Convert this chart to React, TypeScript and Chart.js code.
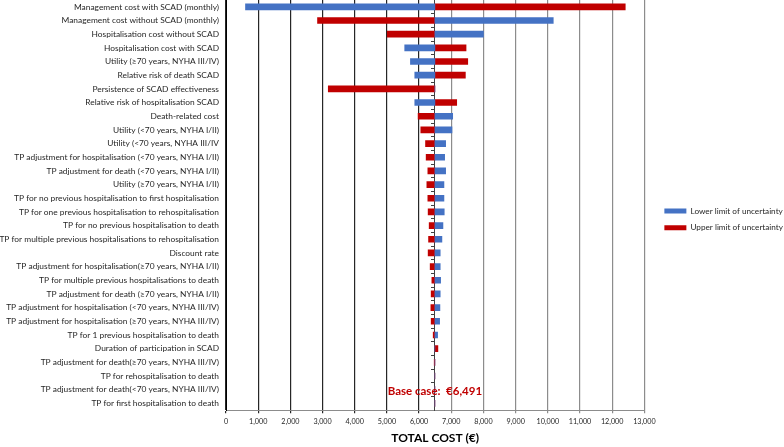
import React, { useEffect, useRef } from 'react';
import { Chart, registerables } from 'chart.js';

Chart.register(...registerables);

const BASE_CASE = 6491;

const categories = [
  'Management cost with SCAD (monthly)',
  'Management cost without SCAD (monthly)',
  'Hospitalisation cost without SCAD',
  'Hospitalisation cost with SCAD',
  'Utility (\u226570 years, NYHA III/IV)',
  'Relative risk of death SCAD',
  'Persistence of SCAD effectiveness',
  'Relative risk of hospitalisation SCAD',
  'Death-related cost',
  'Utility (<70 years, NYHA I/II)',
  'Utility (<70 years, NYHA III/IV',
  'TP adjustment for hospitalisation (<70 years, NYHA I/II)',
  'TP adjustment for death (<70 years, NYHA I/II)',
  'Utility (\u226570 years, NYHA I/II)',
  'TP for no previous hospitalisation to first hospitalisation',
  'TP for one previous hospitalisation to rehospitalisation',
  'TP for no previous hospitalisation to death',
  'TP for multiple previous hospitalisations to rehospitalisation',
  'Discount rate',
  'TP adjustment for hospitalisation(\u226570 years, NYHA I/II)',
  'TP for multiple previous hospitalisations to death',
  'TP adjustment for death (\u226570 years, NYHA I/II)',
  'TP adjustment for hospitalisation (<70 years, NYHA III/IV)',
  'TP adjustment for hospitalisation (\u226570 years, NYHA III/IV)',
  'TP for 1 previous hospitalisation to death',
  'Duration of participation in SCAD',
  'TP adjustment for death(\u226570 years, NYHA III/IV)',
  'TP for rehospitalisation to death',
  'TP adjustment for death(<70 years, NYHA III/IV)',
  'TP for first hospitalisation to death',
];

// Total cost at the lower limit of each parameter's uncertainty range
const lowerLimit = [
  606, 10169, 8000, 5553, 5731, 5866, 6491, 5866, 7044, 7022,
  6825, 6794, 6825, 6772, 6772, 6781, 6741, 6709, 6656, 6656,
  6669, 6656, 6647, 6638, 6575, 6491, 6491, 6491, 6491, 6491,
];

// Total cost at the upper limit of each parameter's uncertainty range
const upperLimit = [
  12406, 2844, 5012, 7459, 7512, 7438, 3178, 7169, 5969, 6053,
  6200, 6219, 6272, 6241, 6272, 6281, 6313, 6294, 6281, 6344,
  6397, 6375, 6366, 6375, 6438, 6584, 6470, 6491, 6491, 6491,
];

const seriesNames = ['Lower limit of uncertainty', 'Upper limit of uncertainty'];
const seriesColors = ['#4472C4', '#C00000'];

const X_MIN = 0;
const X_MAX = 13000;
const X_STEP = 1000;
const BASE_LABEL_ROW = 28;

const FONT = 'Lato, "Open Sans", sans-serif';
const LEGEND_GAP = 20; // space between plot area and legend swatches
const LEGEND_RIGHT = 1;
const LEGEND_TOP = 207; // legend block offset from top of plot area

const legendPlacement = {
  id: 'legendPlacement',
  beforeUpdate(chart: any) {
    const lg = chart.legend;
    if (lg && !lg.__patched) {
      const orig = lg.fit;
      lg.fit = function () {
        orig.call(this);
        const boxes = this.legendHitBoxes || [];
        const colW = boxes.reduce((m: number, b: any) => Math.max(m, b.width), 0);
        this.width = colW + LEGEND_GAP + LEGEND_RIGHT;
      };
      lg.__patched = true;
    }
  },
  afterLayout(chart: any) {
    const lg = chart.legend;
    if (!lg) return;
    const p = lg.options.labels.padding;
    const w = lg.width;
    const h = lg.height;
    lg.left = chart.chartArea.right + LEGEND_GAP - p;
    lg.right = lg.left + w;
    lg.top = chart.chartArea.top + LEGEND_TOP - p;
    lg.bottom = lg.top + h;
  },
};

const baseCaseLabel = {
  id: 'baseCaseLabel',
  afterDatasetsDraw(chart: any) {
    const { ctx, scales } = chart;
    const x = scales.x.getPixelForValue(BASE_CASE);
    const y = scales.y.getPixelForValue(BASE_LABEL_ROW) + 2;
    ctx.save();
    ctx.font = `bold 11.5px ${FONT}`;
    ctx.fillStyle = '#C00000';
    ctx.textAlign = 'center';
    ctx.textBaseline = 'middle';
    ctx.fillText(`Base case:  \u20AC${BASE_CASE.toLocaleString('en-US')}`, x, y);
    ctx.restore();
  },
};

export default function App() {
  const ref = useRef<HTMLCanvasElement>(null);

  useEffect(() => {
    if (!ref.current) return;
    const chart = new Chart(ref.current, {
      type: 'bar',
      data: {
        labels: categories,
        datasets: [
          {
            label: seriesNames[0],
            data: lowerLimit.map((v) => [BASE_CASE, v]) as any,
            backgroundColor: seriesColors[0],
            borderWidth: 0,
            barThickness: 6,
            grouped: false,
            yAxisID: 'y',
          } as any,
          {
            label: seriesNames[1],
            data: upperLimit.map((v) => [BASE_CASE, v]) as any,
            backgroundColor: seriesColors[1],
            borderWidth: 0,
            barThickness: 6,
            grouped: false,
            yAxisID: 'y',
          } as any,
        ],
      },
      options: {
        indexAxis: 'y',
        responsive: false,
        animation: false,
        layout: { padding: 0 },
        plugins: {
          tooltip: { enabled: false },
          legend: {
            position: 'right',
            align: 'start',
            labels: {
              boxWidth: 22,
              boxHeight: 5,
              padding: 8.5,
              color: '#262626',
              font: { family: FONT, size: 8.2 },
            },
          },
        },
        scales: {
          x: {
            type: 'linear',
            min: X_MIN,
            max: X_MAX,
            ticks: {
              stepSize: X_STEP,
              padding: 4.5,
              color: '#262626',
              font: { family: FONT, size: 7.2 },
              callback: (v: any) => Number(v).toLocaleString('en-US'),
            },
            grid: {
              color: (c: any) => (c.tick && c.tick.value < BASE_CASE ? '#262626' : '#8c8c8c'),
              lineWidth: 1.2,
              drawTicks: true,
              tickLength: 3,
            },
            border: { display: true, color: '#8c8c8c' },
            title: {
              display: true,
              text: 'TOTAL COST (\u20AC)',
              color: '#000',
              font: { family: FONT, size: 12, weight: 'bold' },
              padding: { top: 0.5, bottom: 1.3 },
            },
          },
          y: {
            type: 'category',
            offset: true,
            grid: { display: false, drawTicks: false },
            border: { display: true, color: '#000' },
            ticks: {
              padding: 7,
              color: '#262626',
              autoSkip: false,
              font: { family: FONT, size: 8.4 },
            },
            afterFit: (s: any) => {
              s.width = 226;
              s.paddingTop = 0;
              s.paddingBottom = 0;
            },
          },
          y2: {
            type: 'category',
            axis: 'y',
            position: { x: BASE_CASE } as any,
            offset: true,
            grid: {
              display: true,
              offset: true,
              drawOnChartArea: false,
              drawTicks: true,
              tickLength: 3,
              color: '#404040',
            },
            border: { display: true, color: '#404040', width: 1 },
            ticks: { display: false, autoSkip: false },
            afterFit: (s: any) => {
              s.paddingTop = 0;
              s.paddingBottom = 0;
            },
          } as any,
        },
      },
      plugins: [legendPlacement, baseCaseLabel],
    });
    return () => chart.destroy();
  }, []);

  return (
    <div style={{ position: 'absolute', left: 0, top: 0, width: 784, height: 447 }}>
      <canvas ref={ref} width={784} height={447} style={{ display: 'block' }} />
    </div>
  );
}
